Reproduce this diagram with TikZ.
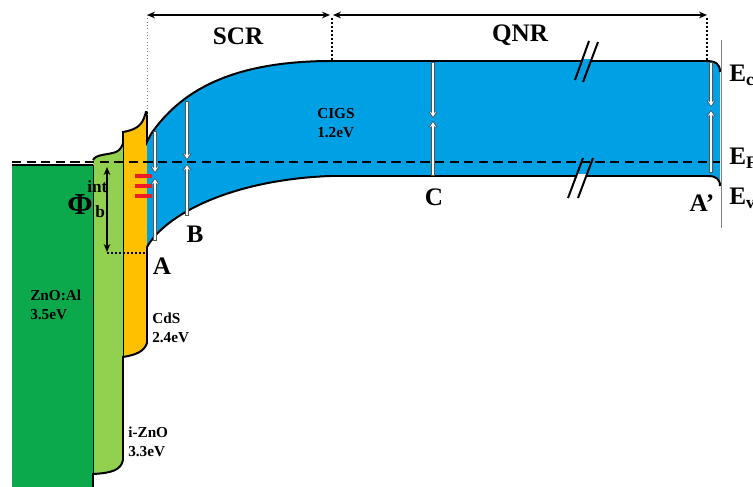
\documentclass[tikz,border=0pt]{standalone}
\usepackage{fontspec}
\setmainfont{Liberation Serif}
\usetikzlibrary{arrows.meta}
\definecolor{ZnoAlGreen}{HTML}{0BA84C}
\definecolor{IZnoGreen}{HTML}{92D050}
\definecolor{CdsOrange}{HTML}{FFC000}
\definecolor{CigsBlue}{HTML}{00A0E4}
\definecolor{TrapRed}{HTML}{EE1C24}
\definecolor{GuideGray}{HTML}{808080}
\definecolor{ArrowEdge}{HTML}{555555}

\begin{document}
\begin{tikzpicture}[x=0.0265cm,y=-0.0265cm,
    lbl/.style={font=\bfseries\fontsize{11.5}{14.5}\selectfont,align=left,anchor=west,inner sep=0pt},
    big/.style={font=\bfseries\fontsize{19}{22}\selectfont,inner sep=0pt},
    edge/.style={line width=1.5pt,black},
    dimline/.style={line width=1pt,{Stealth[length=6pt,width=5pt]}-{Stealth[length=6pt,width=5pt]}},
    thickdots/.style={line width=1.5pt,dash pattern=on 1.5pt off 1.5pt}]
    \useasboundingbox (0,0) rectangle (753,487);

    % layers
    \fill[ZnoAlGreen] (12,164) rectangle (93,487);
    \fill[IZnoGreen] (93,160) .. controls (96,154) and (108,155) .. (116,152) .. controls (120,150) and (122,147) .. (123,143) -- (123,460) .. controls (121,470) and (112,473) .. (93,474) -- cycle;
    \fill[CdsOrange] (123,132) .. controls (135,130) and (141,126) .. (144,118) -- (146,112) -- (147,112) -- (147,343) .. controls (144,352) and (135,355) .. (123,357) -- cycle;
    \fill[CigsBlue] (147,142) -- (151,134) .. controls (180,92) and (230,61) .. (332,61) -- (706,61) .. controls (716,61) and (720,64) .. (720,72) -- (720,186) .. controls (720,179) and (716,176) .. (708,176) -- (330,176) .. controls (230,180) and (165,215) .. (147,247) -- cycle;

    \draw[line width=0.4pt] (93,165) -- (93,474);
    \draw[line width=0.4pt] (123,143) -- (123,357);
    \draw[line width=1.5pt] (12,165) -- (93,165);
    \draw[edge] (93,160) .. controls (96,154) and (108,155) .. (116,152) .. controls (120,150) and (122,147) .. (123,143) -- (123,132) .. controls (135,130) and (141,126) .. (144,118) -- (146,112) -- (147,112) -- (147,142) -- (151,134);
    \draw[edge] (147,247) -- (147,343) .. controls (144,352) and (135,355) .. (123,357) -- (123,460) .. controls (121,470) and (112,473) .. (93,474) -- (93,487);

    % band edges
    \draw[edge] (151,134) .. controls (180,92) and (230,61) .. (332,61) -- (706,61) .. controls (716,61) and (720,64) .. (720,72);
    \draw[edge] (147,247) .. controls (165,215) and (230,180) .. (330,176) -- (708,176) .. controls (716,176) and (720,179) .. (720,186);
    \draw[line width=1.5pt,dash pattern=on 7pt off 4pt] (12,162) -- (720,162);

    % break marks
    \draw[CigsBlue,line width=2.5pt] (582,61) -- (591,61);
    \draw[line width=1.5pt] (575,80) -- (589,41);
    \draw[line width=1.5pt] (583,82) -- (598,42);
    \draw[white,line width=2.5pt] (577,176) -- (586,176);
    \draw[line width=1.5pt] (568,198) -- (583,158);
    \draw[line width=1.5pt] (578,198) -- (593,158);

    % interface states
    \foreach \y in {176,186,196}
      \draw[TrapRed,line width=3pt] (135,\y) -- (152,\y);

    % white arrows
    \foreach \x/\ya/\yb/\yc/\yd in {155/131/173/241/178, 187/101/160/216/164, 433/62/118/176/121, 711/62/107/173/110} {
      \draw[ArrowEdge,line width=3pt,-{Stealth[length=5pt,width=7pt]}] (\x,\ya) -- (\x,\yb);
      \draw[white,line width=1.8pt,shorten >=1pt,-{Stealth[length=3.5pt,width=4.5pt]}] (\x,\ya+1) -- (\x,\yb);
      \draw[ArrowEdge,line width=3pt,-{Stealth[length=5pt,width=7pt]}] (\x,\yc) -- (\x,\yd);
      \draw[white,line width=1.8pt,shorten >=1pt,-{Stealth[length=3.5pt,width=4.5pt]}] (\x,\yc-1) -- (\x,\yd);
    }

    % regions
    \draw[dimline] (147,15) -- (330,15);
    \draw[dimline] (333,15) -- (707,15);
    \draw[GuideGray,line width=0.5pt,dotted] (147,15) -- (147,116);
    \draw[thickdots] (332,18) -- (332,61);
    \draw[thickdots] (707,18) -- (707,61);
    \draw[GuideGray,line width=0.6pt] (721,40) -- (721,228);

    % barrier
    \draw[line width=1.2pt,{Stealth[length=6pt,width=5pt]}-{Stealth[length=6pt,width=5pt]}] (107,167) -- (107,252);
    \draw[thickdots] (107,253) -- (147,253);
    \node[font=\bfseries\fontsize{23}{25}\selectfont,inner sep=0pt] (phi) at (80,205) {Φ};
    \node[font=\bfseries\fontsize{13}{15}\selectfont,inner sep=0pt,anchor=base west] (phiint) at (87,193) {int};
    \node[font=\bfseries\fontsize{13}{15}\selectfont,inner sep=0pt,anchor=base west] (phib) at (95,218) {b};

    \node[big] (scr) at (238,36) {SCR};
    \node[big] (qnr) at (520,35) {QNR};
    \node[big] (ptA) at (162,266) {A};
    \node[big] (ptB) at (195,234) {B};
    \node[big] (ptC) at (434,197) {C};
    \node[big] (ptAp) at (702,203) {A’};
    \node[big,anchor=base west] (ec) at (729,82) {E\textsubscript{c}};
    \node[big,anchor=base west] (ef) at (729,165) {E\textsubscript{F}};
    \node[big,anchor=base west] (ev) at (729,205) {E\textsubscript{v}};

    \node[lbl] (znoal) at (30,305) {ZnO:Al\\3.5eV};
    \node[lbl] (cds) at (152,328) {CdS\\2.4eV};
    \node[lbl] (izno) at (128,442) {i-ZnO\\3.3eV};
    \node[lbl] (cigs) at (317,123) {CIGS\\1.2eV};
  \end{tikzpicture}
\end{document}
